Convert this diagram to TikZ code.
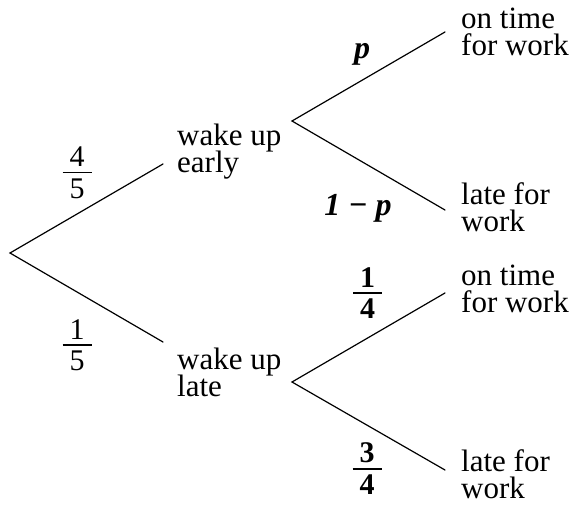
\documentclass[tikz,border=0pt]{standalone}
\usepackage{fontspec}
\setmainfont{Liberation Serif}
\newcommand\twoline[2]{\vtop{\baselineskip=27.5pt\lineskiplimit=-30pt\hbox{#1}\hbox{#2}}}
\newcommand\fr[3]{\vbox{\hbox to 29pt{\hfil#1\hfil}\kern5pt\hrule height #3\kern5pt\hbox to 29pt{\hfil#2\hfil}}}
\begin{document}
\begin{tikzpicture}[x=1pt,y=-1pt,
  lbl/.style={inner sep=0pt, font=\fontsize{31}{27.5}\selectfont, anchor=base west},
  pr/.style={inner sep=0pt, font=\fontsize{30}{30}\selectfont},
  pl/.style={inner sep=0pt, font=\fontsize{32}{32}\selectfont\bfseries\itshape, anchor=base},
  br/.style={line width=1.2pt, line cap=round}]
\useasboundingbox (0,0) rectangle (574,507);
\coordinate (r) at (10,253);
\coordinate (e) at (163,164);
\coordinate (l) at (163,342);
\coordinate (em) at (292,121);
\coordinate (lm) at (292,382);
\coordinate (e1) at (445,32);
\coordinate (e2) at (445,210);
\coordinate (l1) at (445,293);
\coordinate (l2) at (445,470);
\draw[br] (e) -- (r) -- (l);
\draw[br] (e1) -- (em) -- (e2);
\draw[br] (l1) -- (lm) -- (l2);
\node[lbl] (te) at (177,145) {\twoline{wake up}{early}};
\node[lbl] (tl) at (177,369) {\twoline{wake up}{late}};
\node[lbl] (o1) at (461,28) {\twoline{on time}{for work}};
\node[lbl] (f1) at (461,204) {\twoline{late for}{work}};
\node[lbl] (o2) at (461,285) {\twoline{on time}{for work}};
\node[lbl] (f2) at (461,471) {\twoline{late for}{work}};
\node[pr] (p45) at (77,172.75) {\fr{4}{5}{1.5pt}};
\node[pr] (p15) at (77,345) {\fr{1}{5}{1.5pt}};
\node[pr] (p14) at (367.5,293) {\fr{\bfseries 1}{\bfseries 4}{2pt}};
\node[pr] (p34) at (367,469) {\fr{\bfseries 3}{\bfseries 4}{2pt}};
\node[pl] (pp) at (362,58) {p};
\node[pl] (qp) at (358,215) {1 − p};
\end{tikzpicture}
\end{document}
